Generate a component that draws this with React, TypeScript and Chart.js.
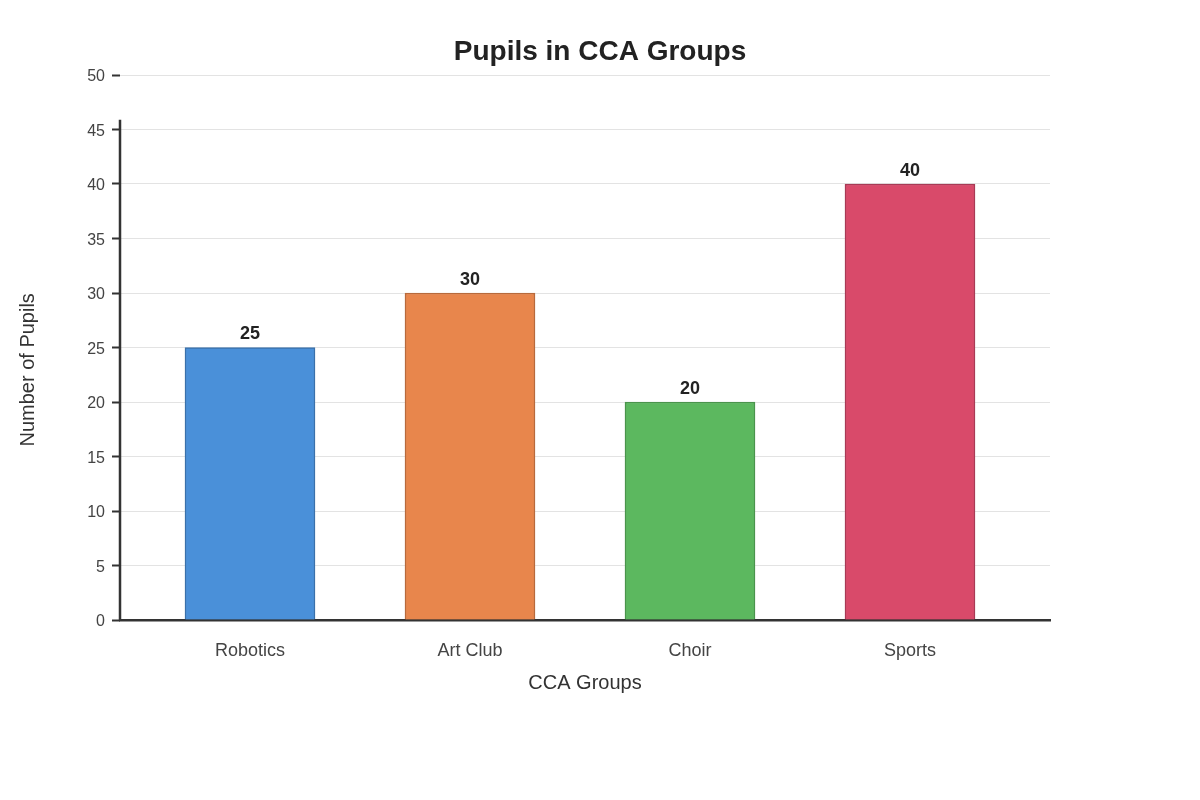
import React, { useEffect, useRef } from "react";
import { Chart, registerables } from "chart.js";

Chart.register(...registerables);

const categories = ["Robotics", "Art Club", "Choir", "Sports"];
const pupils = [25, 30, 20, 40];
const fillColors = ["#4a90d9", "#e8864c", "#5cb85f", "#d94a6a"];
const borderColors = ["#3a70aa", "#b86a3c", "#4a944c", "#a93a55"];
const yTicks = [0, 5, 10, 15, 20, 25, 30, 35, 40, 45, 50];

const FONT = "'Liberation Sans', Arial, sans-serif";

const titlePlugin = {
  id: "customTitle",
  afterDraw(chart: any) {
    const ctx = chart.ctx;
    ctx.save();
    ctx.font = `bold 28px ${FONT}`;
    ctx.fillStyle = "#222";
    ctx.textAlign = "center";
    ctx.textBaseline = "middle";
    ctx.fillText("Pupils in CCA Groups", 600, 52);
    ctx.restore();
  },
};

const AXIS_TOP_VALUE = 45.9;

const yAxisLinePlugin = {
  id: "yAxisLine",
  afterDatasetsDraw(chart: any) {
    const ctx = chart.ctx;
    const y = chart.scales.y;
    const x0 = chart.chartArea.left;
    const top = y.getPixelForValue(AXIS_TOP_VALUE);
    const bottom = y.getPixelForValue(0);
    ctx.save();
    ctx.strokeStyle = "#333";
    ctx.lineWidth = 2.5;
    ctx.beginPath();
    ctx.moveTo(x0, top);
    ctx.lineTo(x0, bottom + 1);
    ctx.stroke();
    // y-axis title, centred on the drawn axis line
    ctx.translate(28, (top + bottom) / 2);
    ctx.rotate(-Math.PI / 2);
    ctx.font = `20px ${FONT}`;
    ctx.fillStyle = "#333";
    ctx.textAlign = "center";
    ctx.textBaseline = "middle";
    ctx.fillText("Number of Pupils", 0, 0);
    ctx.restore();
  },
};

const valueLabelPlugin = {
  id: "valueLabels",
  afterDatasetsDraw(chart: any) {
    const ctx = chart.ctx;
    const meta = chart.getDatasetMeta(0);
    ctx.save();
    ctx.font = `bold 18px ${FONT}`;
    ctx.fillStyle = "#222";
    ctx.textAlign = "center";
    ctx.textBaseline = "bottom";
    meta.data.forEach((bar: any, i: number) => {
      ctx.fillText(String(pupils[i]), bar.x, bar.y - 4);
    });
    ctx.restore();
  },
};

export default function App() {
  const canvasRef = useRef<HTMLCanvasElement | null>(null);

  useEffect(() => {
    document.body.style.margin = "0";
    const canvas = canvasRef.current;
    if (!canvas) return;
    const chart = new Chart(canvas, {
      type: "bar",
      data: {
        datasets: [
          {
            data: pupils.map((v, i) => ({ x: i, y: v })),
            backgroundColor: fillColors,
            borderColor: borderColors,
            borderWidth: 1.5,
            barThickness: 130,
          },
        ],
      },
      options: {
        animation: false,
        responsive: false,
        devicePixelRatio: 1,
        layout: { padding: { top: 75, right: 150, left: 0, bottom: 0 } },
        plugins: {
          legend: { display: false },
          title: { display: false },
          tooltip: { enabled: false },
        },
        scales: {
          x: {
            type: "linear",
            offset: false,
            min: -0.5909,
            max: 3.6364,
            afterBuildTicks(scale: any) {
              scale.ticks = categories.map((_, i) => ({ value: i }));
            },
            afterFit(scale: any) {
              scale.height = 180;
            },
            grid: { display: false, drawTicks: false, offset: false },
            border: { display: true, color: "#333", width: 2.5 },
            ticks: {
              padding: 20,
              color: "#444",
              font: { family: FONT, size: 18 },
              callback: (v: any) => categories[v] ?? "",
              maxRotation: 0,
              autoSkip: false,
            },
            title: {
              display: true,
              text: "CCA Groups",
              color: "#333",
              font: { family: FONT, size: 20 },
              padding: { top: 0, bottom: 105 },
            },
          },
          y: {
            min: 0,
            max: 50,
            afterBuildTicks(scale: any) {
              scale.ticks = yTicks.map((v) => ({ value: v }));
            },
            afterFit(scale: any) {
              scale.width = 120;
            },
            grid: {
              color: "#e3e3e3",
              lineWidth: 1,
              tickColor: "#333",
              tickLength: 8,
              tickWidth: 2,
            },
            border: { display: false },
            ticks: {
              padding: 7,
              labelOffset: 2,
              color: "#444",
              font: { family: FONT, size: 16 },
            },
            title: { display: false },
          },
        },
      },
      plugins: [titlePlugin, yAxisLinePlugin, valueLabelPlugin],
    } as any);
    return () => chart.destroy();
  }, []);

  return (
    <div style={{ position: "fixed", left: 0, top: 0, width: 1200, height: 800, background: "#fff" }}>
      <canvas ref={canvasRef} width={1200} height={800} style={{ width: 1200, height: 800 }} />
    </div>
  );
}
